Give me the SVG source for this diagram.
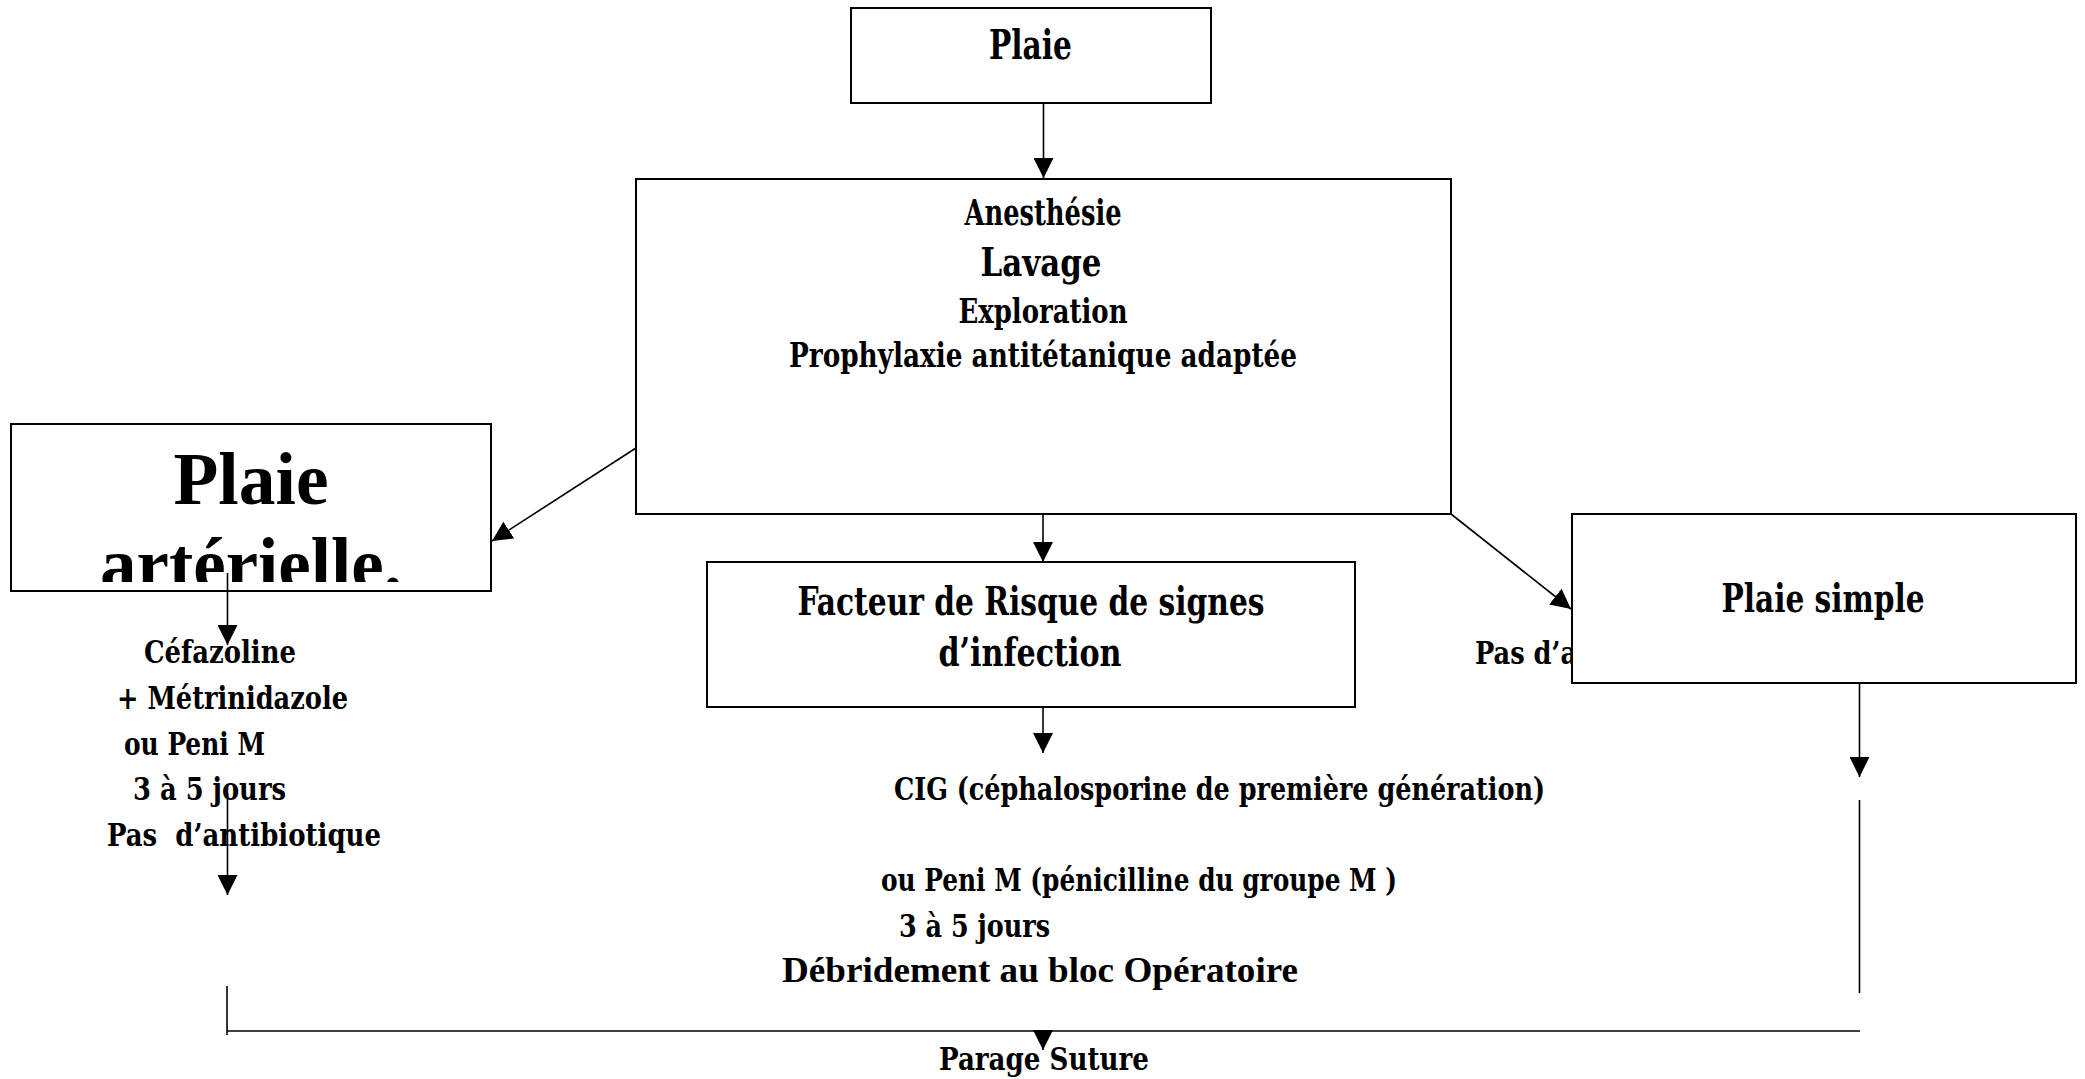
<svg xmlns="http://www.w3.org/2000/svg" width="2085" height="1079" viewBox="0 0 2085 1079">
<style>
.c{font-family:'DejaVu Serif Condensed','DejaVu Serif',serif;font-stretch:condensed;font-weight:bold;fill:#000}
.t{font-family:'Liberation Serif','Times New Roman',serif;font-weight:bold;fill:#000}
.box{fill:#fff;stroke:#000;stroke-width:2}
.ln{stroke:#000;stroke-width:1.6;fill:none}
</style>
<defs>
<marker id="ah" markerUnits="userSpaceOnUse" markerWidth="20" markerHeight="20" refX="20" refY="10" orient="auto" viewBox="0 0 20 20">
<path d="M0,0 L20,10 L0,20 z" fill="#000"/>
</marker>
<clipPath id="clipArt"><rect x="12" y="424" width="478" height="158"/></clipPath>
</defs>
<rect width="2085" height="1079" fill="#fff"/>

<g id="node-plaie">
<rect class="box" x="851" y="8" width="360" height="95"/>
<text class="c" x="1030.5" y="59" font-size="41" text-anchor="middle" textLength="83" lengthAdjust="spacingAndGlyphs">Plaie</text>
</g>

<g id="node-soins">
<rect class="box" x="636" y="179" width="815" height="335"/>
<text class="c" x="1043" y="225" font-size="35" text-anchor="middle" textLength="157" lengthAdjust="spacingAndGlyphs">Anesthésie</text>
<text class="c" x="1041" y="276" font-size="40" text-anchor="middle" textLength="121" lengthAdjust="spacingAndGlyphs">Lavage</text>
<text class="c" x="1043" y="323" font-size="34" text-anchor="middle" textLength="169" lengthAdjust="spacingAndGlyphs">Exploration</text>
<text class="c" x="1043" y="367" font-size="33" text-anchor="middle" textLength="508" lengthAdjust="spacingAndGlyphs">Prophylaxie antitétanique adaptée</text>
</g>

<g id="node-arterielle">
<rect class="box" x="11" y="424" width="480" height="167"/>
<g clip-path="url(#clipArt)">
<text class="t" x="251" y="504" font-size="74" text-anchor="middle" textLength="155" lengthAdjust="spacingAndGlyphs">Plaie</text>
<text class="t" x="251" y="589" font-size="74" text-anchor="middle" textLength="302" lengthAdjust="spacingAndGlyphs">artérielle.</text>
</g>
</g>

<g id="node-arterielle-traitement">
<text class="c" x="144" y="663" font-size="32" textLength="152" lengthAdjust="spacingAndGlyphs">Céfazoline</text>
<text class="c" x="117" y="709" font-size="32" textLength="231" lengthAdjust="spacingAndGlyphs">+ Métrinidazole</text>
<text class="c" x="124" y="755" font-size="32" textLength="141" lengthAdjust="spacingAndGlyphs">ou Peni M</text>
<text class="c" x="133" y="800" font-size="32" textLength="153" lengthAdjust="spacingAndGlyphs">3 à 5 jours</text>
<text class="c" x="107" y="846" font-size="32" textLength="274" lengthAdjust="spacingAndGlyphs" xml:space="preserve">Pas  d’antibiotique</text>
</g>

<g id="node-facteur">
<rect class="box" x="707" y="562" width="648" height="145"/>
<text class="c" x="1031" y="615" font-size="39" text-anchor="middle" textLength="467" lengthAdjust="spacingAndGlyphs">Facteur de Risque de signes</text>
<text class="c" x="1030" y="666" font-size="39" text-anchor="middle" textLength="183" lengthAdjust="spacingAndGlyphs">d’infection</text>
</g>

<g id="node-facteur-traitement">
<text class="c" x="894" y="800" font-size="32" textLength="651" lengthAdjust="spacingAndGlyphs">CIG (céphalosporine de première génération)</text>
<text class="c" x="881" y="891" font-size="32" textLength="516" lengthAdjust="spacingAndGlyphs">ou Peni M (pénicilline du groupe M )</text>
<text class="c" x="899" y="937" font-size="32" textLength="151" lengthAdjust="spacingAndGlyphs">3 à 5 jours</text>
<text class="t" x="782" y="982" font-size="35" textLength="516" lengthAdjust="spacingAndGlyphs">Débridement au bloc Opératoire</text>
</g>

<g id="node-simple-traitement">
<text class="c" x="1475" y="664" font-size="32" textLength="262" lengthAdjust="spacingAndGlyphs">Pas d’antibiotique</text>
</g>

<g id="node-simple">
<rect class="box" x="1572" y="514" width="504" height="169"/>
<text class="c" x="1823" y="612" font-size="39" text-anchor="middle" textLength="203" lengthAdjust="spacingAndGlyphs">Plaie simple</text>
</g>

<g id="node-parage">
<text class="c" x="939" y="1070" font-size="32" textLength="210" lengthAdjust="spacingAndGlyphs">Parage Suture</text>
</g>

<g id="connectors">
<line class="ln" x1="1043.5" y1="103" x2="1043.5" y2="178" marker-end="url(#ah)"/>
<line class="ln" x1="636" y1="448" x2="492" y2="541" marker-end="url(#ah)"/>
<line class="ln" x1="1451" y1="514" x2="1571" y2="609" marker-end="url(#ah)"/>
<line class="ln" x1="1043" y1="514" x2="1043" y2="562" marker-end="url(#ah)"/>
<line class="ln" x1="1043" y1="707" x2="1043" y2="753" marker-end="url(#ah)"/>
<line class="ln" x1="227.5" y1="573" x2="227.5" y2="645" marker-end="url(#ah)"/>
<line class="ln" x1="227.5" y1="793" x2="227.5" y2="895" marker-end="url(#ah)"/>
<line class="ln" x1="1859.5" y1="683" x2="1859.5" y2="777" marker-end="url(#ah)"/>
<line class="ln" x1="1859.5" y1="800" x2="1859.5" y2="993"/>
<line class="ln" x1="227" y1="986" x2="227" y2="1035"/>
<line class="ln" x1="227" y1="1031" x2="1860" y2="1031"/>
<line class="ln" x1="1043" y1="1031" x2="1043" y2="1050" marker-end="url(#ah)"/>
</g>
</svg>
